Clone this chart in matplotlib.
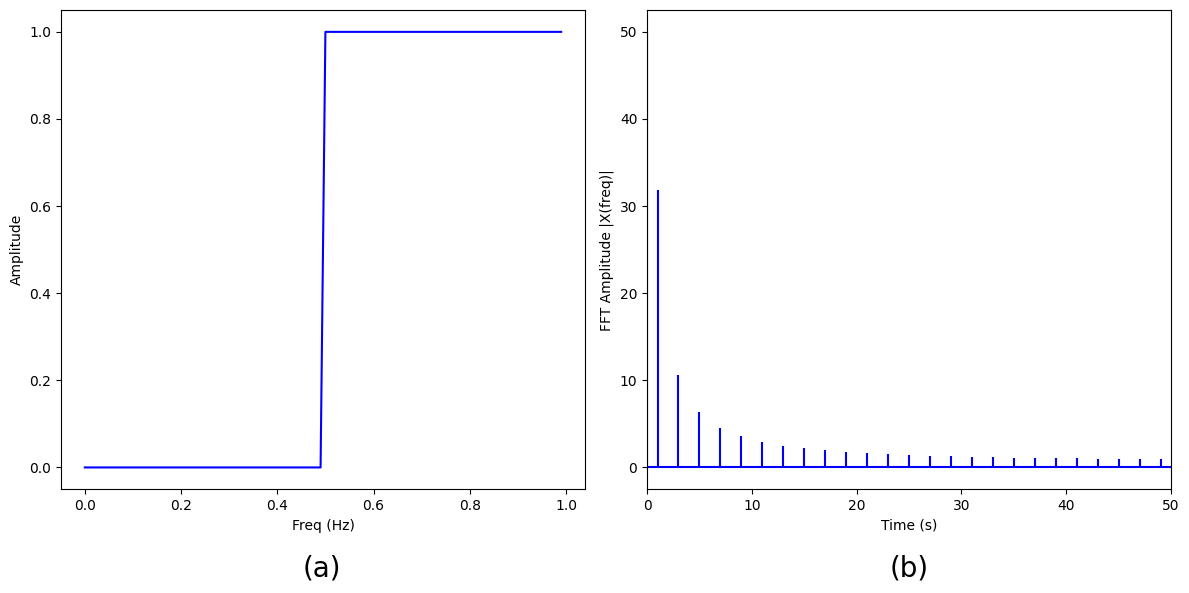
import numpy as np
import matplotlib.pyplot as plt

# left panel: sampled step signal
freq_a = np.arange(0, 100) / 100.0
amp_a = [0.0] * 50 + [1.0] * 50

# right panel: FFT magnitudes (odd bins only, even bins are ~0)
freq_b = list(range(0, 51))
amp_b = [50.0, 31.83, 0, 10.62, 0, 6.39, 0, 4.58, 0, 3.57, 0, 2.94, 0, 2.50, 0, 2.18, 0,
         1.95, 0, 1.76, 0, 1.61, 0, 1.49, 0, 1.41, 0, 1.34, 0, 1.27, 0, 1.21, 0, 1.17, 0,
         1.13, 0, 1.09, 0, 1.06, 0, 1.04, 0, 1.02, 0, 1.01, 0, 1.00, 0, 1.00, 0]

fig = plt.figure(figsize=(11.89, 5.93), dpi=100)
ax1 = fig.add_axes([0.0513, 0.175, 0.4407, 0.808])
ax2 = fig.add_axes([0.5442, 0.175, 0.4407, 0.808])

ax1.plot(freq_a, amp_a, 'b')
ax1.set_xlabel('Freq (Hz)')
ax1.set_ylabel('Amplitude')

ax2.stem(freq_b, amp_b, 'b', markerfmt=' ', basefmt='-b')
ax2.set_xlabel('Time (s)')
ax2.set_ylabel('FFT Amplitude |X(freq)|')
ax2.set_xlim(0, 50)

fig.text(0.271, 0.042, '(a)', fontsize=20, ha='center', va='center')
fig.text(0.7645, 0.042, '(b)', fontsize=20, ha='center', va='center')

fig.savefig('out.png', dpi=100)
